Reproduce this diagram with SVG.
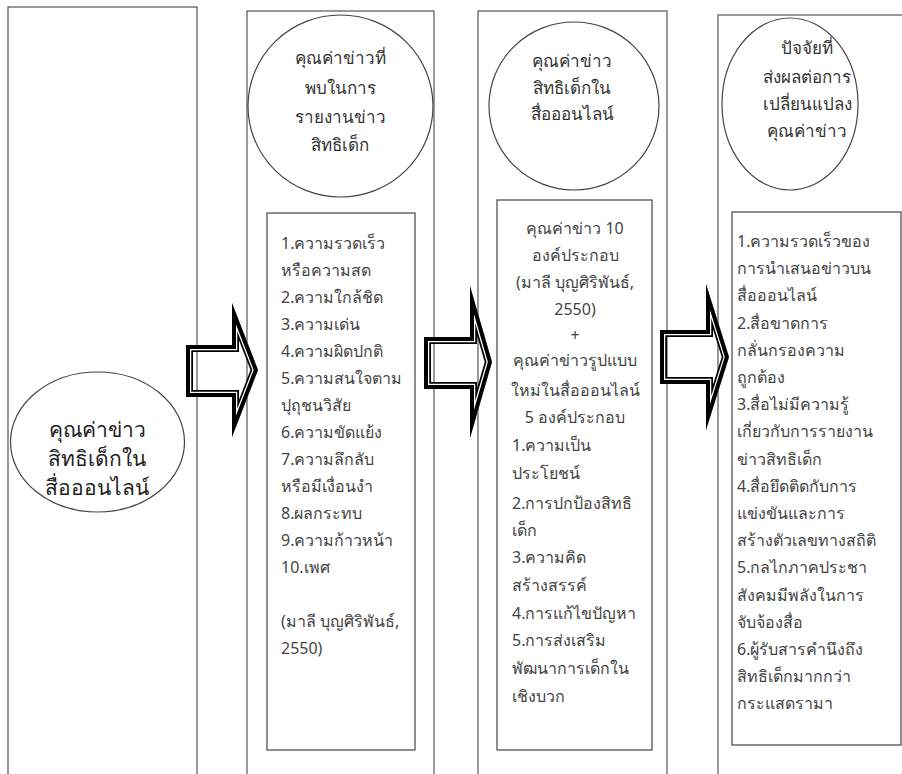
<svg xmlns="http://www.w3.org/2000/svg" width="902" height="774" viewBox="0 0 902 774">
<style>
.frame{fill:none;stroke:#555;stroke-width:1.2}
.box{fill:#fff;stroke:#444;stroke-width:1.2}
.t{font-family:'Noto Sans','DejaVu Sans',sans-serif;fill:#333}
.ct{font-size:17px;text-anchor:middle}
.big{font-size:21px;text-anchor:middle;fill:#222}
.li{font-size:16px;fill:#444}
.lc{font-size:16px;fill:#444;text-anchor:middle}
.s1{fill:none;stroke:#000;stroke-width:14}
.s2{fill:none;stroke:#fff;stroke-width:10.5}
.s3{fill:none;stroke:#000;stroke-width:8}
</style>
<defs>
<polygon id="a1" points="186,345 232,345 232,303 258,370 232,437 232,397 186,397"/>
<polygon id="a2" points="424,337 470,337 470,286 492,362 470,438 470,389 424,389"/>
<polygon id="a3" points="660,330 706,330 706,284 729,357 706,430 706,384 660,384"/>
<clipPath id="c1"><use href="#a1"/></clipPath>
<clipPath id="c2"><use href="#a2"/></clipPath>
<clipPath id="c3"><use href="#a3"/></clipPath>
</defs>
<rect width="902" height="774" fill="#fff"/>
<g id="col1">
<rect class="frame" x="8" y="7" width="189" height="800"/>
<ellipse class="box" cx="97.5" cy="442" rx="87" ry="70"/>
<text class="t big" x="97" y="437">คุณค่าข่าว</text>
<text class="t big" x="97" y="466">สิทธิเด็กใน</text>
<text class="t big" x="97" y="495">สื่อออนไลน์</text>
</g>
<g id="col2">
<rect class="frame" x="247" y="11" width="187" height="800"/>
<ellipse class="box" cx="340.5" cy="106" rx="92.5" ry="91"/>
<text class="t ct" x="340" y="64">คุณค่าข่าวที่</text>
<text class="t ct" x="340" y="94">พบในการ</text>
<text class="t ct" x="340" y="123">รายงานข่าว</text>
<text class="t ct" x="340" y="151">สิทธิเด็ก</text>
<rect class="box" x="267" y="213" width="148" height="537"/>
<g class="t li">
<text x="281" y="249">1.ความรวดเร็ว</text>
<text x="281" y="276">หรือความสด</text>
<text x="281" y="303">2.ความใกล้ชิด</text>
<text x="281" y="330">3.ความเด่น</text>
<text x="281" y="357">4.ความผิดปกติ</text>
<text x="281" y="384">5.ความสนใจตาม</text>
<text x="281" y="411">ปุถุชนวิสัย</text>
<text x="281" y="438">6.ความขัดแย้ง</text>
<text x="281" y="465">7.ความลึกลับ</text>
<text x="281" y="492">หรือมีเงื่อนงำ</text>
<text x="281" y="519">8.ผลกระทบ</text>
<text x="281" y="546">9.ความก้าวหน้า</text>
<text x="281" y="573">10.เพศ</text>
<text x="281" y="627">(มาลี บุญศิริพันธ์,</text>
<text x="281" y="654">2550)</text>
</g>
</g>
<g id="col3">
<rect class="frame" x="478" y="11" width="189" height="800"/>
<ellipse class="box" cx="574" cy="106" rx="85" ry="84"/>
<text class="t ct" x="572" y="67">คุณค่าข่าว</text>
<text class="t ct" x="572" y="94">สิทธิเด็กใน</text>
<text class="t ct" x="572" y="120">สื่อออนไลน์</text>
<rect class="box" x="497" y="200" width="155" height="550"/>
<g class="t lc">
<text x="575" y="234">คุณค่าข่าว 10</text>
<text x="575" y="261">องค์ประกอบ</text>
<text x="575" y="288">(มาลี บุญศิริพันธ์,</text>
<text x="575" y="315">2550)</text>
<text x="575" y="341">+</text>
<text x="575" y="366">คุณค่าข่าวรูปแบบ</text>
<text x="575" y="396">ใหม่ในสื่อออนไลน์</text>
<text x="575" y="423">5 องค์ประกอบ</text>
</g>
<g class="t li">
<text x="512" y="451">1.ความเป็น</text>
<text x="512" y="479">ประโยชน์</text>
<text x="512" y="509">2.การปกป้องสิทธิ</text>
<text x="512" y="536">เด็ก</text>
<text x="512" y="563">3.ความคิด</text>
<text x="512" y="591">สร้างสรรค์</text>
<text x="512" y="619">4.การแก้ไขปัญหา</text>
<text x="512" y="646">5.การส่งเสริม</text>
<text x="512" y="674">พัฒนาการเด็กใน</text>
<text x="512" y="702">เชิงบวก</text>
</g>
</g>
<g id="col4">
<rect class="frame" x="718" y="15" width="200" height="800"/>
<ellipse class="box" cx="790" cy="104" rx="68" ry="86"/>
<text class="t ct" x="807" y="54">ปัจจัยที่</text>
<text class="t ct" x="807" y="83">ส่งผลต่อการ</text>
<text class="t ct" x="807" y="110">เปลี่ยนแปลง</text>
<text class="t ct" x="807" y="137">คุณค่าข่าว</text>
<rect class="box" x="732" y="212" width="169" height="533"/>
<g class="t li">
<text x="737" y="247">1.ความรวดเร็วของ</text>
<text x="737" y="274">การนำเสนอข่าวบน</text>
<text x="737" y="301">สื่อออนไลน์</text>
<text x="737" y="329">2.สื่อขาดการ</text>
<text x="737" y="356">กลั่นกรองความ</text>
<text x="737" y="383">ถูกต้อง</text>
<text x="737" y="410">3.สื่อไม่มีความรู้</text>
<text x="737" y="437">เกี่ยวกับการรายงาน</text>
<text x="737" y="465">ข่าวสิทธิเด็ก</text>
<text x="737" y="492">4.สื่อยึดติดกับการ</text>
<text x="737" y="519">แข่งขันและการ</text>
<text x="737" y="546">สร้างตัวเลขทางสถิติ</text>
<text x="737" y="573">5.กลไกภาคประชา</text>
<text x="737" y="601">สังคมมีพลังในการ</text>
<text x="737" y="628">จับจ้องสื่อ</text>
<text x="737" y="655">6.ผู้รับสารคำนึงถึง</text>
<text x="737" y="682">สิทธิเด็กมากกว่า</text>
<text x="737" y="709">กระแสดรามา</text>
</g>
</g>
<g id="connectors">
<g clip-path="url(#c1)"><use href="#a1" class="s1"/><use href="#a1" class="s2"/><use href="#a1" class="s3"/></g>
<g clip-path="url(#c2)"><use href="#a2" class="s1"/><use href="#a2" class="s2"/><use href="#a2" class="s3"/></g>
<g clip-path="url(#c3)"><use href="#a3" class="s1"/><use href="#a3" class="s2"/><use href="#a3" class="s3"/></g>
</g>
</svg>
